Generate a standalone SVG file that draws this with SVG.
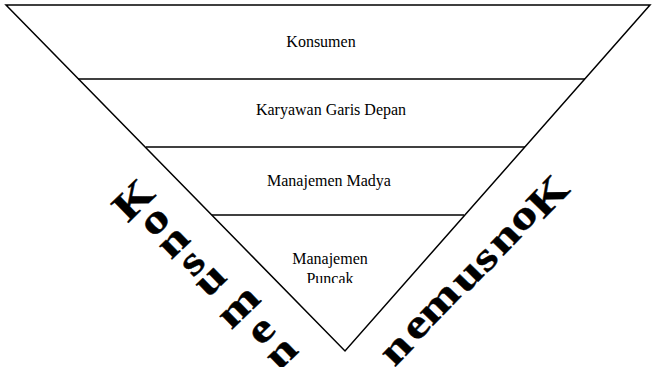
<svg xmlns="http://www.w3.org/2000/svg" width="655" height="367" viewBox="0 0 655 367">
<style>
.edge{stroke:#000;stroke-width:1.5;fill:none}
.lbl{font-family:"Liberation Serif","Times New Roman",serif;font-size:16px;fill:#000;text-anchor:middle}
.big{font-family:"Liberation Serif","Times New Roman",serif;font-size:40px;font-weight:bold;fill:#000;stroke:#000;stroke-width:0.4;text-anchor:middle}
</style>
<defs>
<clipPath id="clipTop"><rect x="280" y="240" width="100" height="43"/></clipPath>
</defs>
<g id="connectors">
<polygon class="edge" points="6,5 650,5 345,351"/>
<line class="edge" x1="78" y1="79" x2="585" y2="79"/>
<line class="edge" x1="146" y1="147" x2="525" y2="147"/>
<line class="edge" x1="212" y1="215" x2="464" y2="215"/>
</g>
<g id="layer-konsumen"><text class="lbl" x="321" y="47">Konsumen</text></g>
<g id="layer-karyawan"><text class="lbl" x="331" y="115">Karyawan Garis Depan</text></g>
<g id="layer-madya"><text class="lbl" x="329" y="186">Manajemen Madya</text></g>
<g id="layer-puncak" clip-path="url(#clipTop)"><text class="lbl" x="330" y="264">Manajemen</text><text class="lbl" x="330" y="284">Puncak</text></g>
<g id="wordart-left">
<text class="big" transform="translate(133,200) rotate(-44.1) scale(1.3,1)" y="13.2">K</text>
<text class="big" transform="translate(156.5,223) rotate(-44.1) scale(1.3,1)" y="9.1">o</text>
<text class="big" transform="translate(175,244) rotate(-44.1) scale(1.3,1)" y="9.1">n</text>
<text class="big" transform="translate(194,264.5) rotate(-44.1) scale(1.3,1)" y="9.1">s</text>
<text class="big" transform="translate(212,282) rotate(-44.1) scale(1.3,1)" y="9.1">u</text>
<text class="big" transform="translate(240.5,309) rotate(-44.1) scale(1.3,1)" y="9.1">m</text>
<text class="big" transform="translate(263,332.5) rotate(-44.1) scale(1.3,1)" y="9.1">e</text>
<text class="big" transform="translate(283,355) rotate(-44.1) scale(1.3,1)" y="9.1">n</text>
</g>
<g id="wordart-right">
<text class="big" transform="translate(548,196) rotate(-45.8) scale(1.3,1)" y="13.2">K</text>
<text class="big" transform="translate(524.5,219) rotate(-45.8) scale(1.3,1)" y="9.1">o</text>
<text class="big" transform="translate(506,240) rotate(-45.8) scale(1.3,1)" y="9.1">n</text>
<text class="big" transform="translate(487,260.5) rotate(-45.8) scale(1.3,1)" y="9.1">s</text>
<text class="big" transform="translate(469,278) rotate(-45.8) scale(1.3,1)" y="9.1">u</text>
<text class="big" transform="translate(440.5,305) rotate(-45.8) scale(1.3,1)" y="9.1">m</text>
<text class="big" transform="translate(418,328.5) rotate(-45.8) scale(1.3,1)" y="9.1">e</text>
<text class="big" transform="translate(398,351) rotate(-45.8) scale(1.3,1)" y="9.1">n</text>
</g>
</svg>
